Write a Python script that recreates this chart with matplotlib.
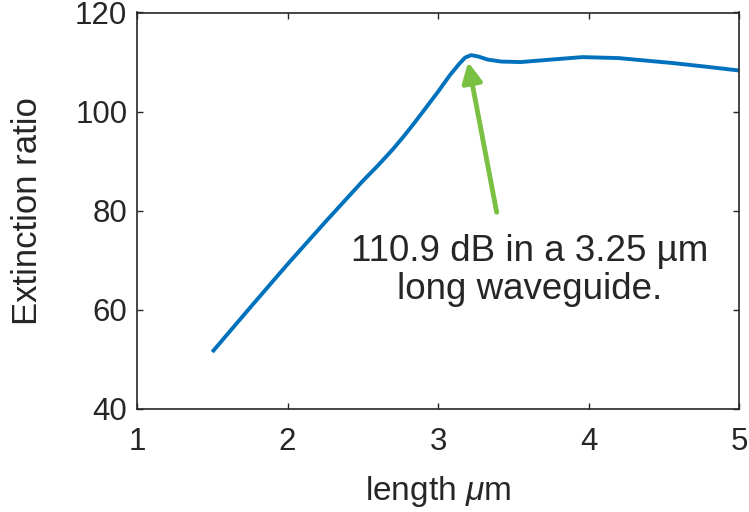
import matplotlib
matplotlib.use('Agg')
import matplotlib.pyplot as plt

plt.rcParams['font.family'] = ['Liberation Sans', 'DejaVu Sans']
plt.rcParams['mathtext.fontset'] = 'custom'
plt.rcParams['mathtext.rm'] = 'Liberation Sans'
plt.rcParams['mathtext.it'] = 'Liberation Sans:italic'

# curve
length_um = [1.5, 1.75, 2.0, 2.25, 2.5, 2.6, 2.7, 2.78, 2.85, 3.0, 3.08, 3.14, 3.18, 3.22,
             3.27, 3.33, 3.42, 3.55, 3.75, 3.96, 4.2, 4.56, 4.8, 5.0]
extinction = [51.5, 60.4, 69.2, 77.7, 86.0, 89.1, 92.4, 95.3, 98.0, 104.0, 107.4, 109.6, 110.9, 111.4,
              111.1, 110.5, 110.1, 110.0, 110.5, 111.0, 110.8, 109.8, 109.0, 108.3]

xticks = [1, 2, 3, 4, 5]
yticks = [40, 60, 80, 100, 120]

# annotation
peak = (3.2, 110.0)
arrow_tail = (3.39, 79.7)
note = '110.9 dB in a 3.25 µm\nlong waveguide.'

gray = '#262626'

fig = plt.figure(figsize=(7.49, 5.12), dpi=100)
ax = fig.add_axes([137 / 749, 1 - 409 / 512, 602 / 749, 396.5 / 512])

ax.plot(length_um, extinction, color='#0072BD', lw=2.8, solid_capstyle='butt')

ax.set_xlim(1, 5)
ax.set_ylim(40, 120)
ax.set_xticks(xticks)
ax.set_yticks(yticks)
ax.tick_params(direction='in', length=4.5, width=1, colors=gray, labelsize=22.5,
               top=True, right=True)
ax.tick_params(axis='x', pad=13)
ax.tick_params(axis='y', pad=7)
for s in ax.spines.values():
    s.set_color(gray)
    s.set_linewidth(1.2)

ax.set_xlabel(r'length $\mu$m', fontsize=24, color=gray, labelpad=12)
ax.set_ylabel('Extinction ratio', fontsize=25, color=gray, labelpad=22)

ax.annotate('', xy=peak, xytext=arrow_tail,
            arrowprops=dict(arrowstyle='-|>,head_length=0.6,head_width=0.3',
                            color='#7AC143', lw=3.5, mutation_scale=20,
                            shrinkA=0, shrinkB=0))
ax.text(3.61, 68, note, ha='center', va='center', fontsize=26.5, color=gray,
        linespacing=1.1)

fig.savefig('out.png', dpi=100)
